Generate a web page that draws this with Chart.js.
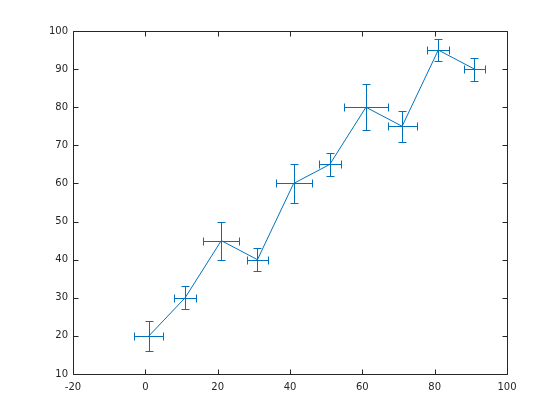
<!DOCTYPE html>
<html>
<head>
<meta charset="utf-8">
<script src="https://cdn.jsdelivr.net/npm/chart.js@4"></script>
<style>
  html, body { margin: 0; padding: 0; background: #fff; }
  #wrap { width: 560px; height: 420px; }
</style>
</head>
<body>
<div id="wrap"><canvas id="chart1" width="560" height="420"></canvas></div>
<script>
var xVals = [1, 11, 21, 31, 41, 51, 61, 71, 81, 91];
var yVals = [20, 30, 45, 40, 60, 65, 80, 75, 95, 90];
var xErr = [4, 3, 5, 3, 5, 3, 6, 4, 3, 3];
var yErr = [4, 3, 5, 3, 5, 3, 6, 4, 3, 3];
var xTicks = [-20, 0, 20, 40, 60, 80, 100];
var yTicks = [10, 20, 30, 40, 50, 60, 70, 80, 90, 100];

var blue = '#0072BD';
var axisColor = '#262626';

var points = xVals.map(function (x, i) { return { x: x, y: yVals[i] }; });

// matlab-ish box with inward ticks on every side
var boxPlugin = {
  id: 'box',
  afterDraw: function (chart) {
    var c = chart.ctx, a = chart.chartArea;
    var sx = chart.scales.x, sy = chart.scales.y;
    var L = Math.round(a.left) + 0.5, R = Math.round(a.right) + 0.5;
    var T = Math.round(a.top) + 0.5, B = Math.round(a.bottom) + 0.5;
    var len = 5;
    c.save();
    c.strokeStyle = axisColor;
    c.lineWidth = 1;
    c.beginPath();
    c.rect(L, T, R - L, B - T);
    xTicks.forEach(function (v) {
      var p = Math.round(sx.getPixelForValue(v)) + 0.5;
      c.moveTo(p, B); c.lineTo(p, B - len);
      c.moveTo(p, T); c.lineTo(p, T + len);
    });
    yTicks.forEach(function (v) {
      var p = Math.round(sy.getPixelForValue(v)) + 0.5;
      c.moveTo(L, p); c.lineTo(L + len, p);
      c.moveTo(R, p); c.lineTo(R - len, p);
    });
    c.stroke();
    c.restore();
  }
};

var errPlugin = {
  id: 'errbars',
  afterDatasetsDraw: function (chart) {
    var c = chart.ctx;
    var sx = chart.scales.x, sy = chart.scales.y;
    var cap = 4;
    c.save();
    c.strokeStyle = blue;
    c.lineWidth = 1;
    c.beginPath();
    for (var i = 0; i < xVals.length; i++) {
      var px = Math.round(sx.getPixelForValue(xVals[i])) + 0.5;
      var py = Math.round(sy.getPixelForValue(yVals[i])) + 0.5;
      var y1 = Math.round(sy.getPixelForValue(yVals[i] - yErr[i])) + 0.5;
      var y2 = Math.round(sy.getPixelForValue(yVals[i] + yErr[i])) + 0.5;
      var x1 = Math.round(sx.getPixelForValue(xVals[i] - xErr[i])) + 0.5;
      var x2 = Math.round(sx.getPixelForValue(xVals[i] + xErr[i])) + 0.5;
      // vertical bar
      c.moveTo(px, y1); c.lineTo(px, y2);
      c.moveTo(px - cap, y1); c.lineTo(px + cap, y1);
      c.moveTo(px - cap, y2); c.lineTo(px + cap, y2);
      // horizontal bar
      c.moveTo(x1, py); c.lineTo(x2, py);
      c.moveTo(x1, py - cap); c.lineTo(x1, py + cap);
      c.moveTo(x2, py - cap); c.lineTo(x2, py + cap);
    }
    c.stroke();
    c.restore();
  }
};

const ctx1 = document.getElementById('chart1');
const chart1 = new Chart(ctx1, {
  type: 'line',
  data: {
    datasets: [{
      data: points,
      borderColor: blue,
      borderWidth: 1,
      pointRadius: 0,
      tension: 0,
      fill: false
    }]
  },
  options: {
    responsive: false,
    animation: false,
    layout: { padding: { left: 0, right: 53, top: 31, bottom: 0 } },
    plugins: { legend: { display: false }, tooltip: { enabled: false } },
    scales: {
      x: {
        type: 'linear',
        min: -20,
        max: 100,
        afterBuildTicks: function (s) { s.ticks = xTicks.map(function (v) { return { value: v }; }); },
        afterFit: function (s) { s.height = 46; },
        grid: { display: false, drawTicks: false },
        border: { display: false },
        ticks: {
          padding: 7,
          maxRotation: 0,
          color: axisColor,
          font: { family: 'DejaVu Sans', size: 10 }
        }
      },
      y: {
        type: 'linear',
        min: 10,
        max: 100,
        afterBuildTicks: function (s) { s.ticks = yTicks.map(function (v) { return { value: v }; }); },
        afterFit: function (s) { s.width = 73; },
        grid: { display: false, drawTicks: false },
        border: { display: false },
        ticks: {
          padding: 5,
          color: axisColor,
          font: { family: 'DejaVu Sans', size: 10 }
        }
      }
    }
  },
  plugins: [errPlugin, boxPlugin]
});
</script>
</body>
</html>
